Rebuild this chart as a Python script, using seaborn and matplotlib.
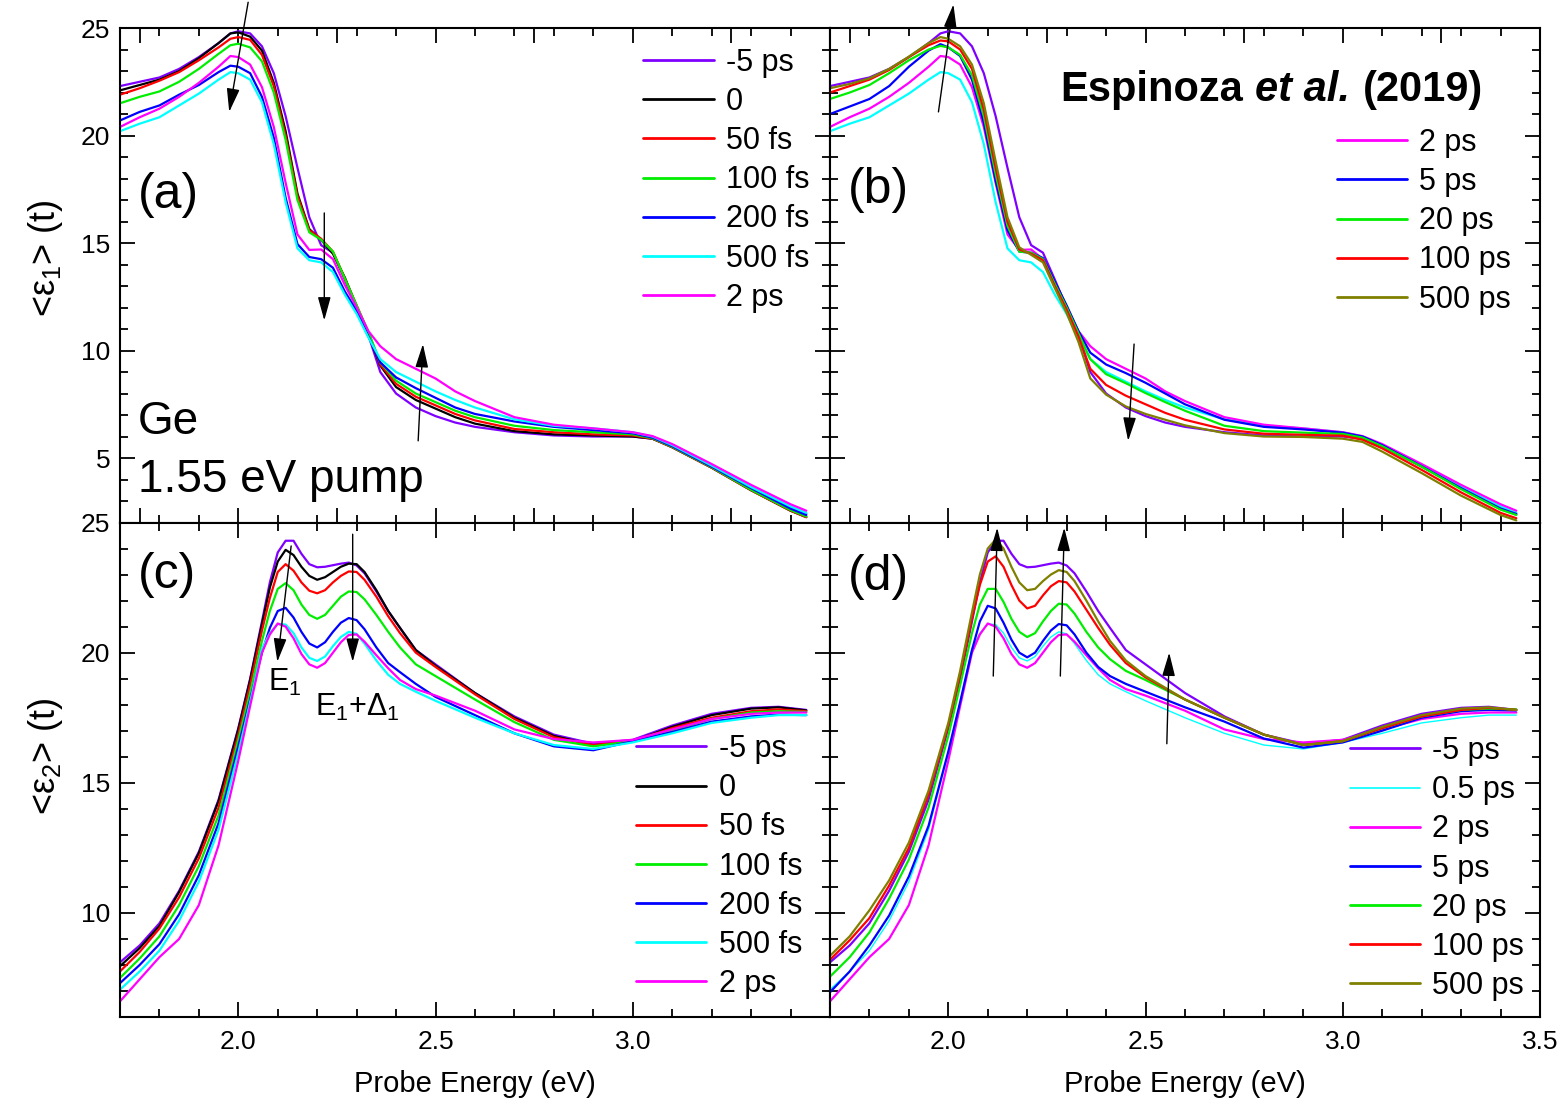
import numpy as np
import pandas as pd
import matplotlib
matplotlib.use("Agg")
import matplotlib.pyplot as plt
import seaborn as sns
from matplotlib.lines import Line2D
from matplotlib.ticker import MultipleLocator
from matplotlib.offsetbox import TextArea, HPacker, AnchoredOffsetbox

# ---------------- data: <eps1>(t) ----------------
E1 = [1.70, 1.75, 1.80, 1.85, 1.90, 1.95, 1.98, 2.00, 2.03, 2.06, 2.09, 2.12, 2.15, 2.18,
      2.21, 2.24, 2.27, 2.30, 2.33, 2.36, 2.40, 2.45, 2.50, 2.55, 2.60, 2.70, 2.80, 2.90,
      3.00, 3.05, 3.10, 3.20, 3.30, 3.40, 3.44]
e1_m5ps = [22.3, 22.5, 22.7, 23.1, 23.65, 24.3, 24.75, 24.85, 24.75, 24.15, 22.9, 20.9, 18.5, 16.2,
           14.9, 14.55, 13.3, 12.0, 10.7, 9.0, 8.0, 7.35, 6.95, 6.65, 6.45, 6.2, 6.05, 6.0,
           6.0, 5.9, 5.55, 4.6, 3.6, 2.7, 2.4]
e1_0 = [22.1, 22.35, 22.6, 23.0, 23.6, 24.3, 24.75, 24.8, 24.6, 23.95, 22.45, 20.2, 17.3, 15.65,
        15.15, 14.5, 13.4, 12.05, 10.75, 9.3, 8.3, 7.7, 7.3, 6.9, 6.6, 6.25, 6.1, 6.05,
        6.0, 5.9, 5.5, 4.55, 3.5, 2.55, 2.25]
e1_50fs = [21.9, 22.2, 22.55, 22.95, 23.5, 24.1, 24.5, 24.58, 24.45, 23.75, 22.3, 20.0, 17.2, 15.6,
           15.2, 14.6, 13.35, 12.1, 10.85, 9.35, 8.45, 7.85, 7.45, 7.05, 6.75, 6.35, 6.2, 6.1,
           6.05, 5.9, 5.5, 4.55, 3.5, 2.55, 2.25]
e1_100fs = [21.5, 21.8, 22.05, 22.5, 23.1, 23.8, 24.2, 24.27, 24.1, 23.45, 22.0, 19.8, 17.0, 15.5,
            15.15, 14.6, 13.35, 12.1, 10.85, 9.45, 8.6, 8.0, 7.6, 7.2, 6.9, 6.5, 6.3, 6.2,
            6.1, 5.92, 5.52, 4.57, 3.52, 2.58, 2.28]
e1_200fs = [20.7, 21.1, 21.4, 21.9, 22.35, 22.95, 23.25, 23.2, 22.9, 21.8, 19.9, 17.1, 14.95, 14.35,
            14.25, 13.85, 12.75, 11.85, 10.65, 9.45, 8.75, 8.25, 7.8, 7.35, 7.05, 6.7, 6.45, 6.3,
            6.15, 5.95, 5.55, 4.6, 3.6, 2.65, 2.35]
e1_500fs = [20.2, 20.55, 20.85, 21.4, 21.95, 22.6, 22.95, 22.9, 22.6, 21.55, 19.6, 16.9, 14.75, 14.2,
            14.1, 13.65, 12.6, 11.7, 10.6, 9.6, 9.0, 8.55, 8.1, 7.7, 7.35, 6.8, 6.5, 6.38,
            6.2, 6.0, 5.6, 4.65, 3.65, 2.75, 2.45]
e1_2ps = [20.4, 20.85, 21.25, 21.8, 22.45, 23.2, 23.7, 23.65, 23.3, 22.25, 20.4, 17.8, 15.4, 14.68,
          14.7, 14.25, 13.05, 12.0, 10.9, 10.2, 9.6, 9.15, 8.7, 8.1, 7.65, 6.9, 6.55, 6.38,
          6.2, 6.02, 5.65, 4.72, 3.75, 2.85, 2.55]
e1_5ps = [21.0, 21.35, 21.7, 22.3, 23.2, 23.95, 24.25, 24.1, 23.7, 22.6, 20.6, 17.9, 15.6, 14.6,
          14.55, 14.3, 13.2, 12.1, 10.9, 9.9, 9.35, 8.95, 8.5, 8.0, 7.5, 6.78, 6.45, 6.33,
          6.18, 6.0, 5.6, 4.62, 3.6, 2.65, 2.4]
e1_20ps = [21.7, 22.0, 22.35, 22.9, 23.5, 24.0, 24.17, 24.1, 23.75, 22.8, 20.9, 18.2, 15.8, 14.6,
           14.55, 14.25, 13.1, 12.0, 10.8, 9.6, 8.9, 8.48, 8.02, 7.6, 7.2, 6.5, 6.25, 6.18,
           6.12, 5.95, 5.55, 4.6, 3.55, 2.6, 2.35]
e1_100ps = [22.0, 22.3, 22.6, 23.05, 23.65, 24.2, 24.42, 24.38, 24.0, 23.1, 21.2, 18.5, 16.0, 14.7,
            14.5, 14.2, 13.0, 11.9, 10.65, 9.15, 8.4, 7.9, 7.5, 7.1, 6.78, 6.33, 6.13, 6.08,
            6.04, 5.85, 5.45, 4.45, 3.4, 2.45, 2.2]
e1_500ps = [22.2, 22.4, 22.66, 23.1, 23.67, 24.3, 24.58, 24.5, 24.15, 23.3, 21.5, 18.8, 16.2, 14.8,
            14.45, 14.1, 12.9, 11.75, 10.4, 8.7, 7.95, 7.4, 7.05, 6.78, 6.52, 6.16, 6.0, 5.98,
            5.9, 5.75, 5.3, 4.3, 3.25, 2.35, 2.1]

# ---------------- data: <eps2>(t) ----------------
E2 = [1.70, 1.75, 1.80, 1.85, 1.90, 1.95, 2.00, 2.03, 2.06, 2.08, 2.10, 2.12, 2.14, 2.16, 2.18,
      2.20, 2.22, 2.24, 2.26, 2.28, 2.30, 2.32, 2.35, 2.38, 2.41, 2.45, 2.50, 2.60, 2.70,
      2.80, 2.90, 3.00, 3.10, 3.20, 3.30, 3.37, 3.44]
e2_m5ps = [8.1, 8.75, 9.6, 10.85, 12.35, 14.35, 17.1, 19.0, 21.2, 22.7, 23.85, 24.3, 24.3, 23.8, 23.4,
           23.28, 23.3, 23.36, 23.42, 23.46, 23.35, 23.05, 22.35, 21.6, 20.95, 20.1, 19.55, 18.45, 17.55,
           16.85, 16.5, 16.65, 17.2, 17.65, 17.88, 17.92, 17.8]
e2_0 = [7.95, 8.65, 9.5, 10.8, 12.3, 14.3, 17.05, 18.95, 21.1, 22.5, 23.5, 23.95, 23.75, 23.3, 22.95,
        22.8, 22.9, 23.1, 23.3, 23.42, 23.4, 23.1, 22.4, 21.6, 20.95, 20.1, 19.5, 18.45, 17.5,
        16.8, 16.45, 16.6, 17.15, 17.6, 17.85, 17.9, 17.78]
e2_50fs = [7.75, 8.5, 9.4, 10.6, 12.1, 14.05, 16.85, 18.75, 20.85, 22.1, 23.1, 23.4, 23.15, 22.7, 22.38,
           22.28, 22.4, 22.7, 22.95, 23.12, 23.1, 22.8, 22.15, 21.4, 20.75, 20.0, 19.45, 18.4, 17.45,
           16.75, 16.45, 16.6, 17.1, 17.5, 17.75, 17.82, 17.75]
e2_100fs = [7.5, 8.25, 9.1, 10.3, 11.8, 13.75, 16.65, 18.45, 20.45, 21.6, 22.45, 22.67, 22.4, 21.85, 21.45,
            21.3, 21.45, 21.8, 22.15, 22.35, 22.33, 22.05, 21.45, 20.8, 20.2, 19.55, 19.1, 18.2, 17.33,
            16.65, 16.4, 16.6, 17.0, 17.45, 17.7, 17.75, 17.72]
e2_200fs = [7.3, 8.0, 8.8, 9.95, 11.45, 13.45, 16.4, 18.2, 20.0, 20.95, 21.6, 21.72, 21.35, 20.8, 20.35,
            20.2, 20.4, 20.8, 21.15, 21.33, 21.25, 20.9, 20.2, 19.6, 19.25, 18.8, 18.3, 17.6, 16.9,
            16.4, 16.25, 16.6, 16.95, 17.35, 17.55, 17.62, 17.6]
e2_500fs = [7.05, 7.75, 8.55, 9.7, 11.2, 13.2, 16.15, 18.1, 20.15, 20.75, 21.1, 21.08, 20.75, 20.2, 19.8,
            19.68, 19.85, 20.25, 20.6, 20.8, 20.72, 20.35, 19.7, 19.15, 18.8, 18.5, 18.15, 17.5, 16.9,
            16.45, 16.3, 16.55, 16.9, 17.3, 17.5, 17.6, 17.6]
e2_2ps = [6.6, 7.45, 8.3, 9.0, 10.3, 12.6, 15.85, 17.95, 20.0, 20.7, 21.12, 21.0, 20.55, 19.95, 19.55,
          19.42, 19.6, 20.0, 20.4, 20.68, 20.7, 20.42, 19.9, 19.4, 18.95, 18.6, 18.35, 17.77, 17.05,
          16.68, 16.55, 16.65, 17.05, 17.45, 17.65, 17.7, 17.7]
e2_5ps = [6.95, 7.75, 8.75, 9.9, 11.4, 13.35, 16.2, 18.1, 20.1, 21.2, 21.8, 21.7, 21.15, 20.5, 20.0,
          19.82, 20.0, 20.45, 20.85, 21.1, 21.05, 20.7, 20.0, 19.45, 19.1, 18.8, 18.5, 17.9, 17.35,
          16.7, 16.35, 16.55, 17.0, 17.5, 17.75, 17.8, 17.78]
e2_20ps = [7.55, 8.3, 9.25, 10.55, 12.05, 14.05, 16.8, 18.75, 20.75, 21.85, 22.45, 22.45, 21.95, 21.3, 20.8,
           20.6, 20.75, 21.2, 21.6, 21.88, 21.85, 21.5, 20.8, 20.2, 19.75, 19.3, 18.95, 18.2, 17.5,
           16.85, 16.45, 16.6, 17.1, 17.55, 17.8, 17.85, 17.82]
e2_100ps = [8.2, 8.95, 9.8, 11.05, 12.5, 14.55, 17.2, 19.15, 21.3, 22.6, 23.5, 23.7, 23.3, 22.6, 22.0,
            21.7, 21.8, 22.2, 22.55, 22.75, 22.7, 22.35, 21.65, 20.95, 20.3, 19.6, 19.05, 18.2, 17.5,
            16.85, 16.45, 16.6, 17.1, 17.55, 17.8, 17.88, 17.8]
e2_500ps = [8.35, 9.1, 10.1, 11.25, 12.7, 14.7, 17.3, 19.3, 21.55, 23.0, 24.0, 24.35, 24.0, 23.3, 22.7,
            22.4, 22.45, 22.75, 23.0, 23.17, 23.1, 22.75, 22.0, 21.2, 20.45, 19.7, 19.1, 18.2, 17.5,
            16.85, 16.45, 16.6, 17.15, 17.6, 17.85, 17.9, 17.8]

PURPLE, BLACK, RED, GREEN = "#7F00FF", "#000000", "#FF0000", "#00EE00"
BLUE, CYAN, MAGENTA, OLIVE = "#0000FF", "#00FFFF", "#FF00FF", "#808000"

# ---------------- style ----------------
sns.set_theme(style="ticks")
plt.rcParams["font.family"] = ["Liberation Sans", "DejaVu Sans"]
plt.rcParams["mathtext.fontset"] = "custom"
plt.rcParams["mathtext.rm"] = "Liberation Sans"
plt.rcParams["mathtext.it"] = "Liberation Sans:italic"
plt.rcParams["mathtext.bf"] = "Liberation Sans:bold"
for key in ("text.color", "axes.labelcolor", "xtick.color", "ytick.color", "axes.edgecolor"):
    plt.rcParams[key] = "black"

fig = plt.figure(figsize=(15.62, 11.04), dpi=100)
gs = fig.add_gridspec(2, 2, left=0.0768, right=0.9859, top=0.9746, bottom=0.0788,
                      wspace=0, hspace=0)
ax_a = fig.add_subplot(gs[0, 0])
ax_b = fig.add_subplot(gs[0, 1])
ax_c = fig.add_subplot(gs[1, 0])
ax_d = fig.add_subplot(gs[1, 1])

LW = 1.6


def draw(ax, x, series):
    for vals, color, lw in series:
        sns.lineplot(x=x, y=vals, ax=ax, color=color, linewidth=lw, legend=False,
                     errorbar=None, sort=False)


draw(ax_a, E1, [(e1_m5ps, PURPLE, LW), (e1_0, BLACK, LW), (e1_50fs, RED, LW), (e1_100fs, GREEN, LW),
                (e1_200fs, BLUE, LW), (e1_500fs, CYAN, LW), (e1_2ps, MAGENTA, LW)])
draw(ax_b, E1, [(e1_m5ps, PURPLE, LW), (e1_500fs, CYAN, LW), (e1_2ps, MAGENTA, LW), (e1_5ps, BLUE, LW),
                (e1_20ps, GREEN, LW), (e1_100ps, RED, LW), (e1_500ps, OLIVE, LW)])
draw(ax_c, E2, [(e2_m5ps, PURPLE, LW), (e2_0, BLACK, LW), (e2_50fs, RED, LW), (e2_100fs, GREEN, LW),
                (e2_200fs, BLUE, LW), (e2_500fs, CYAN, LW), (e2_2ps, MAGENTA, LW)])
draw(ax_d, E2, [(e2_m5ps, PURPLE, LW), (e2_500fs, CYAN, 1.0), (e2_2ps, MAGENTA, LW), (e2_5ps, BLUE, LW),
                (e2_20ps, GREEN, LW), (e2_100ps, RED, LW), (e2_500ps, OLIVE, LW)])

for ax in (ax_a, ax_b, ax_c, ax_d):
    ax.set_xlim(1.7, 3.5)
    ax.xaxis.set_minor_locator(MultipleLocator(0.1))
    ax.yaxis.set_major_locator(MultipleLocator(5))
    ax.yaxis.set_minor_locator(MultipleLocator(1))
    ax.tick_params(which="both", direction="in", top=True, right=True, width=1.3,
                   labelsize=19, pad=7, colors="black")
    ax.tick_params(which="major", length=11)
    ax.tick_params(which="minor", length=6)
    for s in ax.spines.values():
        s.set_linewidth(1.5)
        s.set_color("black")
    ax.set_xlabel("")
    ax.set_ylabel("")

for ax in (ax_a, ax_b):
    ax.set_ylim(2, 25)
    ax.tick_params(labelbottom=False)
for ax in (ax_c, ax_d):
    ax.set_ylim(6, 25)
for ax in (ax_b, ax_d):
    ax.tick_params(labelleft=False)

ax_c.set_xticks([2.0, 2.5, 3.0, 3.5])
ax_c.set_xticklabels(["2.0", "2.5", "3.0", ""])
ax_d.set_xticks([2.0, 2.5, 3.0, 3.5])
ax_d.set_xticklabels(["2.0", "2.5", "3.0", "3.5"])
ax_c.tick_params(axis="x", pad=9)
ax_d.tick_params(axis="x", pad=9)

ax_a.set_ylabel("<ε$_1$> (t)", fontsize=26, color="black")
ax_c.set_ylabel("<ε$_2$> (t)", fontsize=26, color="black")
ax_a.yaxis.set_label_coords(-0.077, 0.535)
ax_c.yaxis.set_label_coords(-0.077, 0.528)
ax_c.set_xlabel("Probe Energy (eV)", fontsize=21, labelpad=12, color="black")
ax_d.set_xlabel("Probe Energy (eV)", fontsize=21, labelpad=12, color="black")

# panel labels and annotations
tk = dict(color="black", ha="left", va="center")
ax_a.text(0.025, 0.662, "(a)", transform=ax_a.transAxes, fontsize=36, **tk)
ax_b.text(0.025, 0.672, "(b)", transform=ax_b.transAxes, fontsize=36, **tk)
ax_c.text(0.025, 0.894, "(c)", transform=ax_c.transAxes, fontsize=36, **tk)
ax_d.text(0.025, 0.890, "(d)", transform=ax_d.transAxes, fontsize=36, **tk)
ax_a.text(0.025, 0.203, "Ge", transform=ax_a.transAxes, fontsize=33, **tk)
ax_a.text(0.025, 0.086, "1.55 eV pump", transform=ax_a.transAxes, fontsize=33, **tk)
ax_c.text(2.076, 18.85, "E$_1$", fontsize=22, **tk)
ax_c.text(2.195, 17.9, "E$_1$+Δ$_1$", fontsize=22, **tk)

# "Espinoza et al. (2019)"
parts = [TextArea("Espinoza", textprops=dict(fontsize=30, fontweight="bold", color="black")),
         TextArea("et al.", textprops=dict(fontsize=30, fontweight="bold", fontstyle="italic",
                                           color="black")),
         TextArea("(2019)", textprops=dict(fontsize=30, fontweight="bold", color="black"))]
hp = HPacker(children=parts, align="baseline", pad=0, sep=9)
ab = AnchoredOffsetbox(loc="center left", child=hp, pad=0, borderpad=0, frameon=False,
                       bbox_to_anchor=(0.324, 0.875), bbox_transform=ax_b.transAxes)
ax_b.add_artist(ab)

# arrows
arrow_kw = dict(arrowstyle="-|>,head_length=0.8,head_width=0.22", color="black", lw=1.0,
                mutation_scale=18, shrinkA=0, shrinkB=0)


def arrow(ax, start, end):
    ax.annotate("", xy=end, xytext=start, arrowprops=arrow_kw, annotation_clip=False)


arrow(ax_a, (2.025, 26.2), (1.977, 21.1))
arrow(ax_a, (2.218, 16.4), (2.218, 11.4))
arrow(ax_a, (2.456, 5.8), (2.468, 10.3))
arrow(ax_b, (1.975, 21.1), (2.013, 26.1))
arrow(ax_b, (2.471, 10.3), (2.456, 5.8))
arrow(ax_c, (2.134, 24.1), (2.099, 19.65))
arrow(ax_c, (2.29, 24.55), (2.29, 19.65))
arrow(ax_d, (2.114, 19.1), (2.124, 24.8))
arrow(ax_d, (2.284, 19.1), (2.294, 24.8))
arrow(ax_d, (2.554, 16.5), (2.56, 20.0))

# legends
leg_kw = dict(loc="upper left", frameon=False, fontsize=22, handlelength=2.3,
              handletextpad=0.4, labelspacing=0.3, borderpad=0, borderaxespad=0,
              labelcolor="black")


def legend(ax, items, anchor):
    handles = [Line2D([], [], color=c, lw=w) for _, c, w in items]
    labels = [t for t, _, _ in items]
    ax.legend(handles, labels, bbox_to_anchor=anchor, **leg_kw)


legend(ax_a, [("-5 ps", PURPLE, 2), ("0", BLACK, 2), ("50 fs", RED, 2), ("100 fs", GREEN, 2),
              ("200 fs", BLUE, 2), ("500 fs", CYAN, 2), ("2 ps", MAGENTA, 2)], (0.737, 0.96))
legend(ax_b, [("2 ps", MAGENTA, 2), ("5 ps", BLUE, 2), ("20 ps", GREEN, 2), ("100 ps", RED, 2),
              ("500 ps", OLIVE, 2)], (0.714, 0.798))
legend(ax_c, [("-5 ps", PURPLE, 2), ("0", BLACK, 2), ("50 fs", RED, 2), ("100 fs", GREEN, 2),
              ("200 fs", BLUE, 2), ("500 fs", CYAN, 2), ("2 ps", MAGENTA, 2)], (0.727, 0.572))
legend(ax_d, [("-5 ps", PURPLE, 2), ("0.5 ps", CYAN, 1.2), ("2 ps", MAGENTA, 2), ("5 ps", BLUE, 2),
              ("20 ps", GREEN, 2), ("100 ps", RED, 2), ("500 ps", OLIVE, 2)], (0.732, 0.568))

fig.savefig("out.png", dpi=100)
